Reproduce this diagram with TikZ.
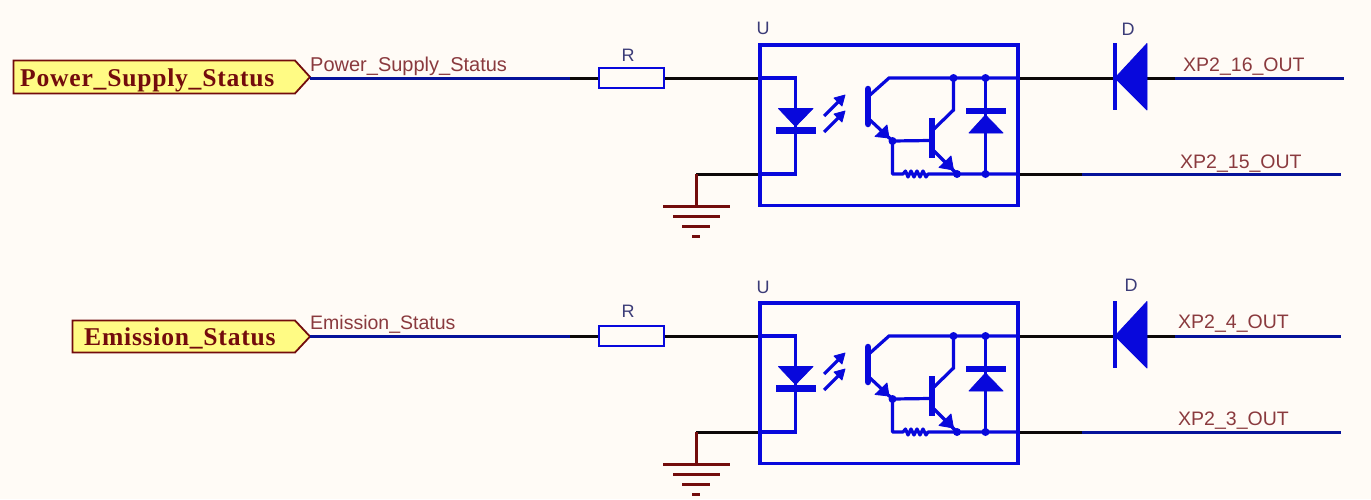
\documentclass[tikz,border=0pt]{standalone}
\usepackage{fontspec}
\setmainfont{Liberation Sans}
\newfontfamily\flagfont[LetterSpace=3]{Liberation Serif}
\definecolor{bgc}{HTML}{FFFBF6}
\definecolor{partblue}{HTML}{0808DC}
\definecolor{wireblue}{HTML}{06129A}
\definecolor{wireblack}{HTML}{0C0808}
\definecolor{gndred}{HTML}{730C0C}
\definecolor{netred}{HTML}{8A3A3E}
\definecolor{desig}{HTML}{3C3C78}
\definecolor{flagfill}{HTML}{FFFB84}
\tikzset{
  netlabel/.style={anchor=base west,inner sep=0pt,text=netred,font=\fontsize{19.5}{20}\selectfont},
  widelabel/.style={netlabel,font=\fontsize{20}{20}\selectfont},
  designator/.style={inner sep=0pt,text=desig,font=\fontsize{18}{20}\selectfont},
  flagtext/.style={inner sep=0pt,anchor=base west,text=gndred,font=\flagfont\bfseries\fontsize{25.6}{26}\selectfont},
  flagbox/.style={draw=gndred,fill=flagfill,line width=1.8pt,line join=miter},
  wireb/.style={draw=wireblue,line width=3pt},
  wirek/.style={draw=wireblack,line width=3pt},
  gndline/.style={draw=gndred,line width=3pt},
  part/.style={draw=partblue,line width=3.2pt,line join=miter},
  partfill/.style={fill=partblue,draw=partblue,line width=.8pt,line join=round},
  bar/.style={draw=partblue,line width=6.5pt},
  junct/.style={circle,fill=partblue,inner sep=0pt,minimum size=8pt},
  resbox/.style={draw=partblue,fill=bgc,line width=2.8pt,minimum width=65pt,minimum height=20pt,inner sep=0pt},
}
\newcommand{\optoblock}[1]{%
  \coordinate (#1boxnw) at (760,45);
  \coordinate (#1boxse) at (1018,205.5);
  \draw[part] (#1boxnw) rectangle (#1boxse);
  \coordinate (#1a) at (760,78);
  \coordinate (#1k) at (760,174);
  \coordinate (#1c) at (1018,78);
  \coordinate (#1e) at (1018,174);
  % LED
  \coordinate (#1l1) at (795.5,78);
  \coordinate (#1l2) at (795.5,174);
  \draw[part] (#1a) -- (#1l1) -- (#1l2) -- (#1k);
  \fill[partfill] (778.5,108.5) -- (813,108.5) -- (795.5,126.5) -- cycle;
  \draw[bar] (776,130.5) -- (816,130.5);
  % light arrows
  \draw[part] (824,116) -- (842,98);
  \fill[partfill] (845,95) -- (834,98) -- (842,106) -- cycle;
  \draw[part] (824,132) -- (842,114);
  \fill[partfill] (845,111) -- (834,114) -- (842,122) -- cycle;
  % first transistor
  \draw[bar,line cap=round] (868,89) -- (868,124);
  \coordinate (#1t1c) at (889,78);
  \coordinate (#1j1) at (892.5,141);
  \draw[part] (870,95) -- (#1t1c) -- (#1c);
  \draw[part] (870,120) -- (#1j1);
  \fill[partfill] (875,136.5) -- (887,125) -- (889,138) -- cycle;
  \node[junct] (#1J1) at (#1j1) {};
  % second transistor
  \draw[bar] (932,118) -- (932,158);
  \coordinate (#1t2c) at (953.5,110);
  \node[junct] (#1J2) at (953.5,78) {};
  \node[junct] (#1J3) at (985.5,78) {};
  \node[junct] (#1J4) at (985.5,174) {};
  \node[junct] (#1J5) at (957,174) {};
  \draw[part] (#1J1.center) -- (930,140.5);
  \draw[part] (934,129) -- (#1t2c) -- (#1J2.center);
  \draw[part] (934,151) -- (#1J5.center);
  \fill[partfill] (939,167.5) -- (951,156) -- (953.5,170) -- cycle;
  % internal resistor path
  \draw[part,line join=round] (#1J1.center) -- (892.5,174) -- (903,174)
    -- (905.5,171) -- (908,177) -- (911,171) -- (914,177) -- (917,171) -- (920,177) -- (923,171) -- (926,177) -- (928,174)
    -- (#1J5.center) -- (#1e);
  % protection diode
  \draw[part] (#1J3.center) -- (#1J4.center);
  \draw[bar] (966,111) -- (1006,111);
  \fill[partfill] (985.5,115) -- (1003,133) -- (969,133) -- cycle;
}
\newcommand{\seriesdiode}[1]{%
  \draw[part,line width=3.6pt] (1115,43) -- (1115,110);
  \fill[partfill] (1115,78) -- (1147,43.5) -- (1147,110) -- cycle;
}
\newcommand{\groundsym}[1]{%
  \coordinate (#1g0) at (696,174);
  \coordinate (#1g1) at (696,206);
  \draw[gndline] (#1g0) -- (#1g1);
  \draw[gndline] (663,206) -- (730,206);
  \draw[gndline] (673,216.5) -- (720,216.5);
  \draw[gndline] (682,226) -- (710,226);
  \draw[gndline] (692,236) -- (700,236);
}
\begin{document}
\begin{tikzpicture}[x=1pt,y=-1pt]
\useasboundingbox (0,0) rectangle (1371,499);
\fill[bgc] (0,0) rectangle (1371,499);

% ===== upper channel =====
\begin{scope}
  \coordinate (ap1) at (570,78);
  \coordinate (ap2) at (1175,78);
  \coordinate (ap3) at (1344,78);
  \coordinate (bp1) at (1082,174);
  \coordinate (bp2) at (1341,174);
  \node[resbox] (R1) at (631.5,78) {};
  \draw[wirek] (ap1) -- (R1.west);
  \draw[wirek] (R1.east) -- (760,78);
  \draw[wirek] (1018,78) -- (ap2);
  \draw[wireb] (ap2) -- (ap3);
  \draw[wirek] (1018,174) -- (bp1);
  \draw[wireb] (bp1) -- (bp2);
  \draw[wirek] (696,174) -- (760,174);
  \groundsym{A}
  \optoblock{A}
  \seriesdiode{A}
\end{scope}
\draw[flagbox] (13.5,60.5) -- (295,60.5) -- (310,77) -- (295,93.5) -- (13.5,93.5) -- cycle;
\node[flagtext] (F1) at (20,86) {Power\_Supply\_Status};
\coordinate (F1tip) at (310,78);
\draw[wireb] (F1tip) -- (ap1);
\node[widelabel] (N1) at (310,71) {Power\_Supply\_Status};
\node[designator] (RL1) at (628,55) {R};
\node[designator] (UL1) at (763,28.5) {U};
\node[designator] (DL1) at (1128,29) {D};
\node[netlabel] (N2) at (1183,71) {XP2\_16\_OUT};
\node[netlabel] (N3) at (1180,168.5) {XP2\_15\_OUT};

% ===== lower channel =====
\begin{scope}[shift={(0,258)}]
  \coordinate (cp1) at (570,78);
  \coordinate (cp2) at (1175,78);
  \coordinate (cp3) at (1341,78);
  \coordinate (dp1) at (1082,174.5);
  \coordinate (dp2) at (1341,174.5);
  \node[resbox] (R2) at (631.5,78) {};
  \draw[wirek] (cp1) -- (R2.west);
  \draw[wirek] (R2.east) -- (760,78);
  \draw[wirek] (1018,78) -- (cp2);
  \draw[wireb] (cp2) -- (cp3);
  \draw[wirek] (1018,174.5) -- (dp1);
  \draw[wireb] (dp1) -- (dp2);
  \draw[wirek] (696,174.5) -- (760,174.5);
  \groundsym{B}
  \optoblock{B}
  \seriesdiode{B}
\end{scope}
\draw[flagbox] (72.5,320.5) -- (295,320.5) -- (310,336.5) -- (295,352.5) -- (72.5,352.5) -- cycle;
\node[flagtext] (F2) at (84,345) {Emission\_Status};
\coordinate (F2tip) at (310,336);
\draw[wireb] (F2tip) -- (cp1);
\node[netlabel] (N4) at (310,329) {Emission\_Status};
\node[designator] (RL2) at (628,311) {R};
\node[designator] (UL2) at (763,287) {U};
\node[designator] (DL2) at (1131,285) {D};
\node[netlabel] (N5) at (1178,328) {XP2\_4\_OUT};
\node[netlabel] (N6) at (1178,425) {XP2\_3\_OUT};
\end{tikzpicture}
\end{document}
